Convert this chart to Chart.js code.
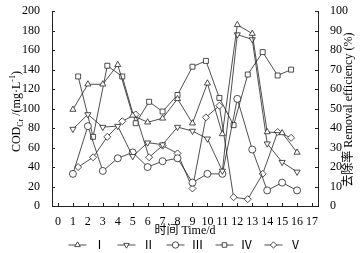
<!DOCTYPE html>
<html>
<head>
<meta charset="utf-8">
<script src="https://cdn.jsdelivr.net/npm/chart.js@4/dist/chart.umd.min.js"></script>
<style>
  html, body { margin: 0; padding: 0; background: #fff; overflow: hidden; }
  canvas { display: block; }
</style>
</head>
<body>
<canvas id="cod" width="360" height="253"></canvas>
<script>
const days = [1, 2, 3, 4, 5, 6, 7, 8, 9, 10, 11, 12, 13, 14, 15, 16];
const daysShift = [1.35, 2.35, 3.3, 4.3, 5.2, 6.1, 7.0, 8.0, 9.0, 9.9, 10.8, 11.75, 12.7, 13.7, 14.7, 15.6];

const s1 = [99, 125, 125, 145, 93, 86, 90, 110, 85, 126, 74, 186, 177, 76, 75, 55];
const s2 = [79, 94, 81, 82, 51, 65, 63, 81, 77, 69, 36, 176, 171, 64, 45, 35];
const s3 = [33, 82, 36, 49, 55, 40, 46, 49, 24, 33, 33, 110, 58, 16, 24, 16];
const s4 = [133, 71, 144, 133, 85, 107, 97, 114, 143, 149, 111, 83, 135, 158, 134, 140];
const s5 = [40, 50, 71, 87, 94, 50, 62, 54, 18, 91, 103, 9, 7, 33, 76, 70];

const names = ['Ⅰ', 'Ⅱ', 'Ⅲ', 'Ⅳ', 'Ⅴ'];
const xTicks = [0, 1, 2, 3, 4, 5, 6, 7, 8, 9, 10, 11, 12, 13, 14, 15, 16, 17];

const serif = "'Liberation Serif', 'Noto Sans CJK SC', serif";
const ink = '#222';

function pts(xs, ys) {
  return xs.map((x, i) => ({ x: x, y: ys[i] }));
}

function series(label, xs, ys, style, rot) {
  return {
    label: label,
    data: pts(xs, ys),
    borderColor: ink,
    borderWidth: 0.8,
    pointStyle: style,
    rotation: rot || 0,
    pointRadius: 3.5,
    pointBorderWidth: 0.8,
    pointBackgroundColor: '#fff',
    pointBorderColor: ink,
    tension: 0,
    yAxisID: 'y'
  };
}

// inward ticks, axis titles with sub/superscripts, line+marker legend
const decor = {
  id: 'decor',
  afterDraw(chart) {
    const ctx = chart.ctx;
    const a = chart.chartArea;
    const sx = chart.scales.x, sy = chart.scales.y, sy1 = chart.scales.y1;
    ctx.save();
    ctx.strokeStyle = ink;
    ctx.lineWidth = 1;
    ctx.beginPath();
    sx.ticks.forEach(t => {
      const p = Math.round(sx.getPixelForValue(t.value)) + 0.5;
      ctx.moveTo(p, a.bottom); ctx.lineTo(p, a.bottom - 3);
    });
    sy.ticks.forEach(t => {
      const p = Math.round(sy.getPixelForValue(t.value)) + 0.5;
      ctx.moveTo(a.left, p); ctx.lineTo(a.left + 3, p);
    });
    sy1.ticks.forEach(t => {
      const p = Math.round(sy1.getPixelForValue(t.value)) + 0.5;
      ctx.moveTo(a.right, p); ctx.lineTo(a.right - 3, p);
    });
    ctx.stroke();

    ctx.fillStyle = '#000';
    ctx.textBaseline = 'alphabetic';

    // left title: COD_Cr /(mg·L^-1)
    const parts = [
      { t: 'COD', size: 12, dy: 0 },
      { t: 'Cr', size: 8, dy: 3 },
      { t: ' /(mg·L', size: 12, dy: 0 },
      { t: '-1', size: 8, dy: -5 },
      { t: ')', size: 12, dy: 0 }
    ];
    let total = 0;
    parts.forEach(p => { ctx.font = p.size + 'px ' + serif; p.w = ctx.measureText(p.t).width; total += p.w; });
    ctx.save();
    ctx.translate(20, (a.top + a.bottom) / 2 + 3);
    ctx.rotate(-Math.PI / 2);
    let cx = -total / 2;
    parts.forEach(p => {
      ctx.font = p.size + 'px ' + serif;
      ctx.fillText(p.t, cx, p.dy);
      cx += p.w;
    });
    ctx.restore();

    // right title
    ctx.save();
    ctx.font = '12px ' + serif;
    ctx.translate(352, (a.top + a.bottom) / 2 + 1);
    ctx.rotate(-Math.PI / 2);
    ctx.textAlign = 'center';
    ctx.fillText('去除率 Removal efficiency (%)', 0, 0);
    ctx.restore();

    // x title
    ctx.font = '12px ' + serif;
    ctx.textAlign = 'center';
    ctx.fillText('时间 Time/d', (a.left + a.right) / 2, 234);

    // legend
    const y0 = 245;
    const seg = 18, gap = 7, between = 12;
    ctx.font = '12px ' + serif;
    const widths = chart.data.datasets.map(d => seg + gap + ctx.measureText(d.label).width);
    const totalW = widths.reduce((s, w) => s + w, 0) + between * (widths.length - 1);
    let lx = (a.left + a.right) / 2 - totalW / 2;
    ctx.textAlign = 'left';
    ctx.textBaseline = 'middle';
    chart.data.datasets.forEach((d, i) => {
      ctx.strokeStyle = ink;
      ctx.lineWidth = 0.8;
      ctx.beginPath();
      ctx.moveTo(lx, y0); ctx.lineTo(lx + seg, y0);
      ctx.stroke();
      ctx.fillStyle = '#fff';
      Chart.helpers.drawPoint(ctx, {
        pointStyle: d.pointStyle, rotation: d.rotation, radius: 3.2, borderWidth: 0.8
      }, lx + seg / 2, y0);
      ctx.fillStyle = '#000';
      ctx.fillText(d.label, lx + seg + gap, y0 + 1);
      lx += widths[i] + between;
    });
    ctx.restore();
  }
};

new Chart(document.getElementById('cod'), {
  type: 'line',
  data: {
    datasets: [
      series(names[0], days, s1, 'triangle', 0),
      series(names[1], days, s2, 'triangle', 180),
      series(names[2], days, s3, 'circle', 0),
      series(names[3], daysShift, s4, 'rect', 0),
      series(names[4], daysShift, s5, 'rectRot', 0)
    ]
  },
  options: {
    responsive: false,
    animation: false,
    layout: { padding: { top: 11, left: 0, right: 0, bottom: 0 } },
    plugins: {
      legend: { display: false },
      tooltip: { enabled: false }
    },
    scales: {
      x: {
        type: 'linear',
        min: -0.4, max: 17.4,
        afterBuildTicks: s => { s.ticks = xTicks.map(v => ({ value: v })); },
        afterFit: s => { s.height = 47; },
        ticks: { color: '#000', padding: 1, font: { family: serif, size: 12 }, maxRotation: 0, autoSkip: false },
        grid: { display: false },
        border: { display: true, color: ink, width: 1 }
      },
      y: {
        position: 'left',
        min: 0, max: 200,
        ticks: { stepSize: 20, color: '#000', padding: 4, font: { family: serif, size: 12 } },
        afterFit: s => { s.width = 52; },
        grid: { display: false },
        border: { display: true, color: ink, width: 1 }
      },
      y1: {
        position: 'right',
        min: 0, max: 100,
        ticks: { stepSize: 10, color: '#000', padding: 4, font: { family: serif, size: 12 } },
        afterFit: s => { s.width = 42; },
        grid: { display: false },
        border: { display: true, color: ink, width: 1 }
      }
    }
  },
  plugins: [decor]
});
</script>
</body>
</html>
